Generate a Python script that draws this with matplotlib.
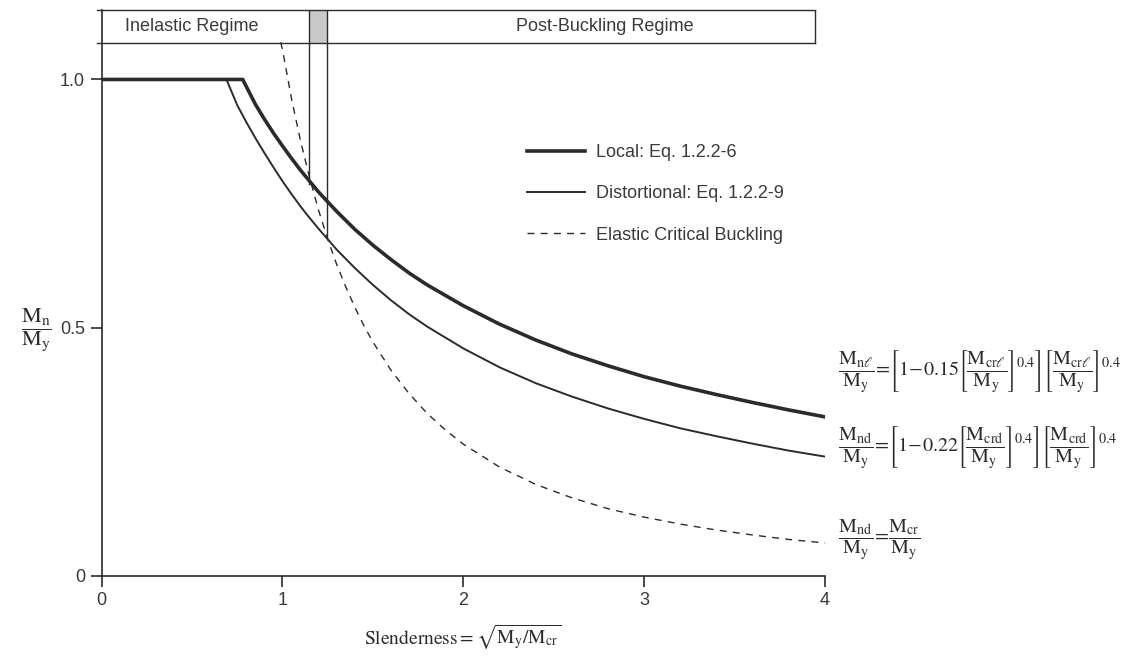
import matplotlib.pyplot as plt

plt.rcParams['font.family'] = ['Liberation Sans', 'DejaVu Sans']
plt.rcParams['mathtext.fontset'] = 'stix'

# curves (slenderness, Mn/My)
local_x = [0.0, 0.78, 0.85, 0.9, 0.95, 1.0, 1.05, 1.1, 1.15, 1.2, 1.3, 1.4, 1.5, 1.6, 1.7, 1.8,
           2.0, 2.2, 2.4, 2.6, 2.8, 3.0, 3.2, 3.4, 3.6, 3.8, 4.0]
local_y = [1.0, 1.0, 0.950, 0.920, 0.892, 0.866, 0.841, 0.817, 0.795, 0.773, 0.734, 0.698, 0.666,
           0.637, 0.610, 0.586, 0.544, 0.507, 0.475, 0.447, 0.423, 0.401, 0.382, 0.365, 0.349,
           0.334, 0.320]

dist_x = [0.0, 0.69, 0.75, 0.8, 0.85, 0.9, 0.95, 1.0, 1.05, 1.1, 1.15, 1.2, 1.3, 1.4, 1.5, 1.6,
          1.7, 1.8, 2.0, 2.2, 2.4, 2.6, 2.8, 3.0, 3.2, 3.4, 3.6, 3.8, 4.0]
dist_y = [1.0, 1.0, 0.948, 0.914, 0.882, 0.852, 0.823, 0.795, 0.769, 0.744, 0.721, 0.699, 0.657,
          0.620, 0.586, 0.555, 0.527, 0.502, 0.458, 0.420, 0.388, 0.361, 0.337, 0.316, 0.297,
          0.281, 0.266, 0.252, 0.240]

elastic_x = [0.99, 1.0, 1.05, 1.1, 1.15, 1.2, 1.25, 1.3, 1.35, 1.4, 1.45, 1.5, 1.6, 1.7, 1.8, 1.9,
             2.0, 2.2, 2.4, 2.6, 2.8, 3.0, 3.2, 3.4, 3.6, 3.8, 4.0]
elastic_y = [1.075, 1.06, 0.961, 0.876, 0.802, 0.736, 0.678, 0.627, 0.582, 0.541, 0.504, 0.471,
             0.414, 0.367, 0.327, 0.294, 0.265, 0.219, 0.184, 0.157, 0.135, 0.118, 0.104, 0.092,
             0.082, 0.073, 0.066]

labels = ['Local: Eq. 1.2.2-6', 'Distortional: Eq. 1.2.2-9', 'Elastic Critical Buckling']

# regime band at the top of the chart
band_lo, band_hi = 1.073, 1.14
inelastic_end, post_start, post_end = 1.147, 1.248, 3.945
left_stop, right_stop = 0.79, 0.68

ink = '#2b2b2b'
txt = '#3a3a3a'

fig = plt.figure(figsize=(11.32, 6.58), dpi=100)
ax = fig.add_axes([0.0898, 0.1251, 0.6390, 0.8597])

ax.plot(local_x, local_y, color=ink, lw=2.6, label=labels[0], solid_joinstyle='miter')
ax.plot(dist_x, dist_y, color=ink, lw=1.4, label=labels[1], solid_joinstyle='miter')
ax.plot(elastic_x, elastic_y, color=ink, lw=1.0, dashes=(5, 4.5), label=labels[2])

# regime boxes
ax.plot([-0.025, post_end], [band_hi, band_hi], color=ink, lw=1.0, clip_on=False)
ax.plot([-0.025, post_end], [band_lo, band_lo], color=ink, lw=1.0, clip_on=False)
ax.plot([post_end, post_end], [band_lo, band_hi], color=ink, lw=1.0)
ax.fill_between([inelastic_end, post_start], band_lo, band_hi, color='#c9c9c9', lw=0)
ax.plot([inelastic_end, inelastic_end], [left_stop, band_hi], color=ink, lw=1.0)
ax.plot([post_start, post_start], [right_stop, band_hi], color=ink, lw=1.0)
ax.text(0.13, (band_lo + band_hi) / 2, 'Inelastic Regime', fontsize=13, color=txt,
        va='center', ha='left')
ax.text(2.78, (band_lo + band_hi) / 2, 'Post-Buckling Regime', fontsize=13, color=txt,
        va='center', ha='center')

ax.set_xlim(0, 4)
ax.set_ylim(0, band_hi)
ax.set_xticks([0, 1, 2, 3, 4])
ax.set_yticks([0, 0.5, 1.0])
ax.set_yticklabels(['0', '0.5', '1.0'])
ax.spines['top'].set_visible(False)
ax.spines['right'].set_visible(False)
for s in ['left', 'bottom']:
    ax.spines[s].set_color(ink)
    ax.spines[s].set_linewidth(1.2)
ax.tick_params(direction='out', length=8, width=1.2, color=ink, labelsize=13,
               labelcolor=txt, pad=4)

ax.legend(loc='upper left', bbox_to_anchor=(518 / 1132, 1 - 135 / 658),
          bbox_transform=fig.transFigure, frameon=False, fontsize=13,
          handlelength=3.2, handletextpad=0.6, labelspacing=1.35, borderpad=0,
          labelcolor=txt)

# axis titles
fig.text(0.032, 1 - 330 / 658, r'$\dfrac{\mathrm{M_n}}{\mathrm{M_y}}$', fontsize=16,
         ha='center', va='center', color=ink)
fig.text(463 / 1132, 1 - 637 / 658, r'$\mathrm{Slenderness} = \sqrt{\mathrm{M_y/M_{cr}}}$',
         fontsize=14, ha='center', va='center', color=ink)

# equations beside the curve ends
eq_local = (r'$\dfrac{\mathrm{M_{n\ell}}}{\mathrm{M_y}}\!=\!\left[1\!-\!0.15'
            r'\left[\dfrac{\mathrm{M_{cr\ell}}}{\mathrm{M_y}}\right]^{0.4}\right]'
            r'\left[\dfrac{\mathrm{M_{cr\ell}}}{\mathrm{M_y}}\right]^{0.4}$')
eq_dist = (r'$\dfrac{\mathrm{M_{nd}}}{\mathrm{M_y}}\!=\!\left[1\!-\!0.22'
           r'\left[\dfrac{\mathrm{M_{crd}}}{\mathrm{M_y}}\right]^{0.4}\right]'
           r'\left[\dfrac{\mathrm{M_{crd}}}{\mathrm{M_y}}\right]^{0.4}$')
eq_elastic = r'$\dfrac{\mathrm{M_{nd}}}{\mathrm{M_y}}\!=\!\dfrac{\mathrm{M_{cr}}}{\mathrm{M_y}}$'
fig.text(838 / 1132, 1 - 372 / 658, eq_local, fontsize=14.5, ha='left', va='center', color=ink)
fig.text(838 / 1132, 1 - 448 / 658, eq_dist, fontsize=14.5, ha='left', va='center', color=ink)
fig.text(838 / 1132, 1 - 540 / 658, eq_elastic, fontsize=14.5, ha='left', va='center', color=ink)

fig.savefig('out.png', dpi=100)
